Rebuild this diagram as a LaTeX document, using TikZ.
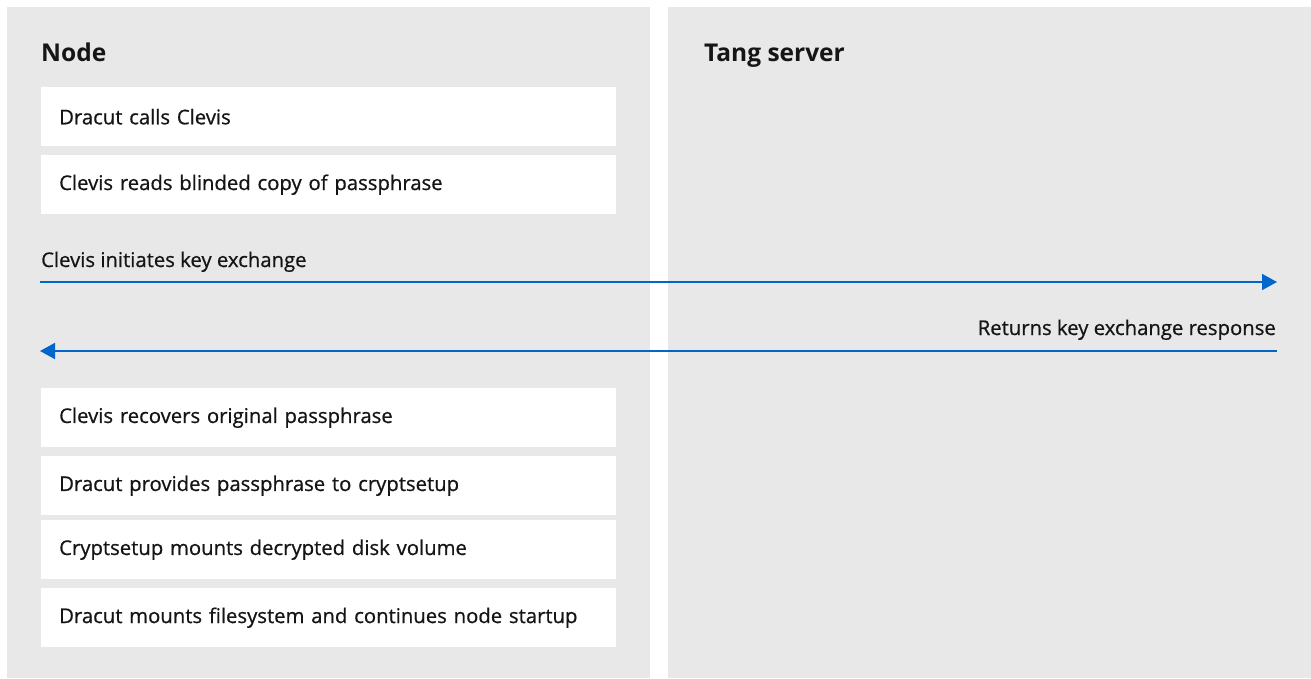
\documentclass[tikz,border=0pt]{standalone}
\usepackage{fontspec}
\setmainfont{Open Sans}
\newfontfamily\medfont{Open Sans}[FakeBold=0.7]
\usetikzlibrary{arrows.meta}
\definecolor{panelgray}{HTML}{E8E8E8}
\definecolor{txt}{HTML}{151515}
\definecolor{flowblue}{HTML}{0066CC}
\tikzset{
  panel/.style={fill=panelgray, draw=none},
  stepbox/.style={fill=white, draw=none, anchor=north west, minimum height=59pt,
    text width=539pt, inner xsep=18pt, inner ysep=0pt, align=left,
    font=\medfont\fontsize{20.3}{24}\selectfont, text=txt},
  heading/.style={anchor=base west, inner sep=0pt, font=\fontsize{24.5}{29}\selectfont\bfseries, text=txt},
  flowlabel/.style={inner sep=0pt, font=\medfont\fontsize{20.3}{24}\selectfont, text=txt},
  flow/.style={draw=flowblue, line width=1.8pt, -{Triangle[length=15pt,width=16pt]}}
}
\begin{document}
\begin{tikzpicture}[x=1pt,y=-1pt]
\useasboundingbox[fill=white] (0,0) rectangle (1311,678);
\fill[panel] (7,7) rectangle (650,678);
\fill[panel] (668,7) rectangle (1311,678);
\node[heading] (nodehead) at (41,61) {Node};
\node[heading] (tanghead) at (704,61) {Tang server};
\node[stepbox] (s1) at (41,87) {Dracut calls Clevis};
\node[stepbox] (s2) at (41,155) {Clevis reads blinded copy of passphrase};
\node[stepbox] (s3) at (41,388) {Clevis recovers original passphrase};
\node[stepbox] (s4) at (41,456) {Dracut provides passphrase to cryptsetup};
\node[stepbox] (s5) at (41,520) {Cryptsetup mounts decrypted disk volume};
\node[stepbox] (s6) at (41,588) {Dracut mounts filesystem and continues node startup};
\coordinate (a1s) at (40,282);
\coordinate (a1e) at (1277,282);
\coordinate (a2s) at (1277,351);
\coordinate (a2e) at (40,351);
\draw[flow] (a1s) -- (a1e);
\draw[flow] (a2s) -- (a2e);
\node[flowlabel, anchor=base west] (l1) at (41,267) {Clevis initiates key exchange};
\node[flowlabel, anchor=base east] (l2) at (1276,335) {Returns key exchange response};
\end{tikzpicture}
\end{document}
